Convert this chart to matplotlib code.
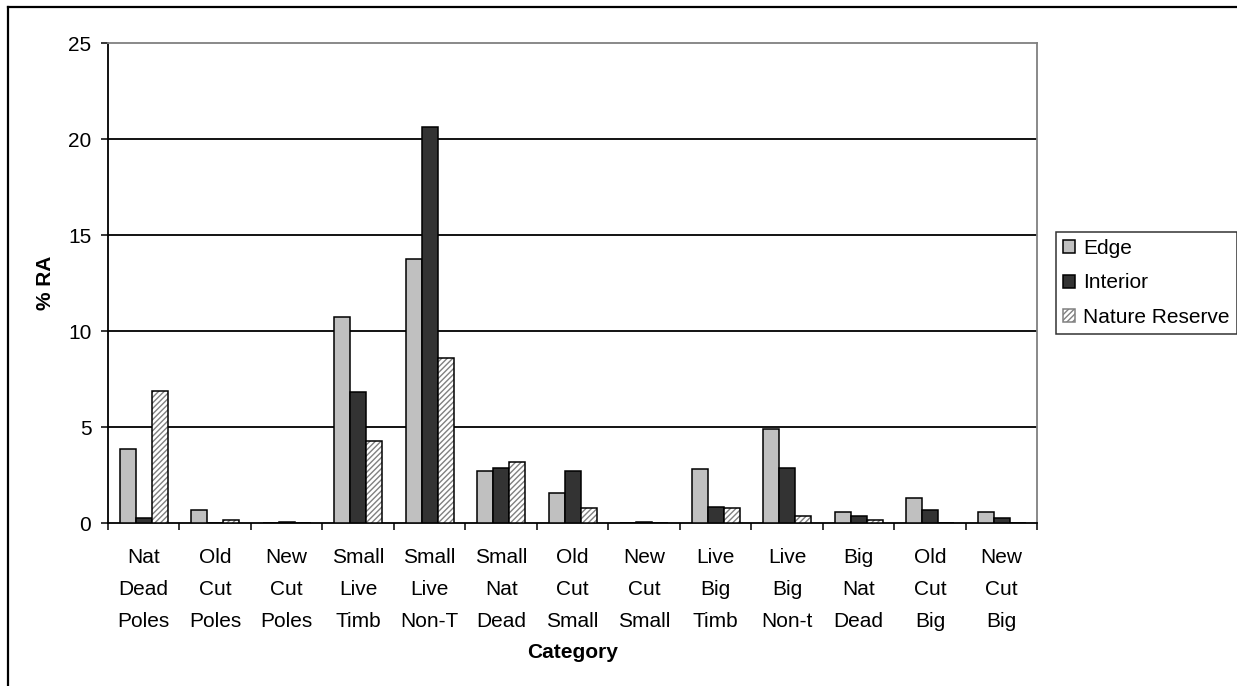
import matplotlib.pyplot as plt
from matplotlib.lines import Line2D
from matplotlib.patches import Patch
import numpy as np

plt.rcParams['font.family'] = ['Liberation Sans', 'DejaVu Sans']

categories = ['Nat\nDead\nPoles', 'Old\nCut\nPoles', 'New\nCut\nPoles',
              'Small\nLive\nTimb', 'Small\nLive\nNon-T', 'Small\nNat\nDead',
              'Old\nCut\nSmall', 'New\nCut\nSmall', 'Live\nBig\nTimb',
              'Live\nBig\nNon-t', 'Big\nNat\nDead', 'Old\nCut\nBig',
              'New\nCut\nBig']
edge = [3.85, 0.70, 0.0, 10.75, 13.75, 2.72, 1.57, 0.0, 2.80, 4.91, 0.61, 1.32, 0.61]
interior = [0.28, 0.0, 0.08, 6.85, 20.65, 2.89, 2.73, 0.08, 0.87, 2.89, 0.37, 0.71, 0.28]
reserve = [6.87, 0.17, 0.0, 4.30, 8.60, 3.17, 0.82, 0.0, 0.82, 0.38, 0.16, 0.0, 0.0]

fs = 15
fig = plt.figure(figsize=(12.37, 6.86), dpi=100)
ax = fig.add_axes([0.0873, 0.2372, 0.7514, 0.7001])

x = np.arange(len(categories))
w = 0.225

# gridlines first so bars sit on top
for yv in [5, 10, 15, 20]:
    ax.axhline(yv, color='black', lw=1.3, zorder=1)

ax.bar(x - w, edge, w, color='#c0c0c0', edgecolor='black', lw=1.1, zorder=3)
ax.bar(x, interior, w, color='#333333', edgecolor='black', lw=1.1, zorder=3)
# hatched bars: grey hatch underneath, black outline on top
ax.bar(x + w, reserve, w, color='white', edgecolor='#808080', hatch='//////', lw=0, zorder=3)
ax.bar(x + w, reserve, w, fill=False, edgecolor='black', lw=1.1, zorder=4)

ax.set_xlim(-0.5, len(categories) - 0.5)
ax.set_ylim(0, 25)
ax.set_yticks([0, 5, 10, 15, 20, 25])
ax.tick_params(axis='y', direction='out', length=5, width=1.1, pad=7, labelsize=fs)

ax.set_xticks(x)
ax.set_xticklabels(categories, fontsize=fs, linespacing=1.88)
ax.set_xticks(np.arange(len(categories) + 1) - 0.5, minor=True)
ax.tick_params(axis='x', which='major', length=0, pad=17.5)
ax.tick_params(axis='x', which='minor', direction='out', length=5, width=1.1)

for side in ['left', 'bottom']:
    ax.spines[side].set_color('black')
    ax.spines[side].set_linewidth(1.3)
for side in ['top', 'right']:
    ax.spines[side].set_color('#808080')
    ax.spines[side].set_linewidth(1.3)

ax.set_ylabel('% RA', fontsize=fs, fontweight='bold', labelpad=9)
ax.set_xlabel('Category', fontsize=fs, fontweight='bold', labelpad=9)

handles = [
    Patch(facecolor='#c0c0c0', edgecolor='black', lw=1.1),
    Patch(facecolor='#333333', edgecolor='black', lw=1.1),
    Patch(facecolor='white', edgecolor='#808080', hatch='//////', lw=1.1),
]
leg = fig.legend(handles, ['Edge', 'Interior', 'Nature Reserve'],
                 loc='center left', bbox_to_anchor=(0.8537, 0.5875),
                 fontsize=fs, frameon=True, fancybox=False, edgecolor='black',
                 handlelength=0.58, handleheight=0.58, handletextpad=0.38,
                 labelspacing=0.75, borderpad=0.35, borderaxespad=0)
leg.get_frame().set_linewidth(1.1)

# outer chart border (left and top edges)
fig.add_artist(Line2D([8 / 1237, 8 / 1237], [0, 1 - 7 / 686], color='black', lw=1.6,
                      transform=fig.transFigure))
fig.add_artist(Line2D([8 / 1237, 1], [1 - 7 / 686, 1 - 7 / 686], color='black', lw=1.6,
                      transform=fig.transFigure))

fig.savefig('out.png', dpi=100)
